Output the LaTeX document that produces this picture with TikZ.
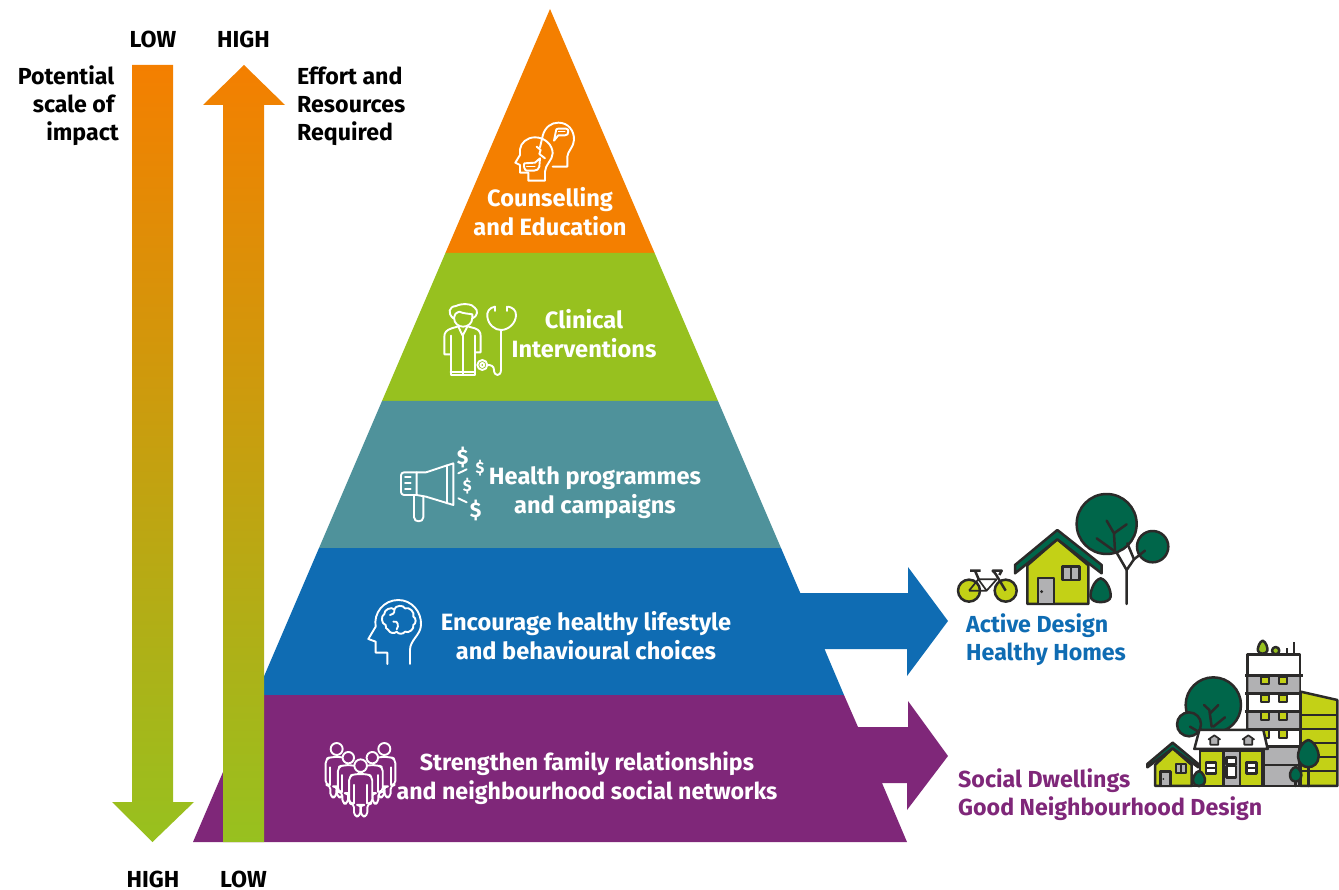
\documentclass[tikz,border=0pt]{standalone}
\usepackage{fontspec}
\setmainfont{Fira Sans}
\usetikzlibrary{calc}
\definecolor{cOrange}{HTML}{F47F00}
\definecolor{cMid}{HTML}{C6AE0E}
\definecolor{cGreen}{HTML}{97C11F}
\definecolor{cTeal}{HTML}{4F929B}
\definecolor{cBlue}{HTML}{0F6CB3}
\definecolor{cPurple}{HTML}{7F2779}
\definecolor{cDark}{HTML}{2B2A29}
\definecolor{cTree}{HTML}{00664A}
\definecolor{cLime}{HTML}{C3D116}
\definecolor{cGrey}{HTML}{B1B1B3}
\tikzset{
  band/.style={draw=none},
  label/.style={font=\fontsize{23.6}{29}\selectfont\bfseries,text=white,align=center,inner sep=0pt},
  axislabel/.style={font=\fontsize{23.2}{28}\selectfont\bfseries,text=black,inner sep=0pt},
  side/.style={font=\fontsize{23.2}{28}\selectfont\bfseries,align=left,inner sep=0pt,anchor=west},
  ico/.style={draw=white,line width=1.9pt,line join=round,line cap=round},
  art/.style={draw=cDark,line width=2.5pt,line join=round},
  thin art/.style={draw=cDark,line width=1.7pt,line join=round},
  zoomed/.style={x=0.3333pt,y=-0.3333pt},
  grad/.style={top color=cOrange,middle color=cMid,bottom color=cGreen},
}
\begin{document}
\begin{tikzpicture}[x=1pt,y=-1pt]
\useasboundingbox (0,0) rectangle (1339,890);
% pyramid
\fill[cOrange,band] (550,9) -- (654.6,253) -- (445.4,253) -- cycle;
\fill[cGreen,band] (445.4,253) -- (654.6,253) -- (718,401) -- (382,401) -- cycle;
\fill[cTeal,band] (382,401) -- (718,401) -- (781,548) -- (319,548) -- cycle;
\fill[cBlue,band] (319,548) -- (781,548) -- (800.3,593) -- (908,593) -- (908,567) -- (948,621) -- (907,676) -- (907,649) -- (824.5,649) -- (844,695) -- (256,695) -- cycle;
\fill[cPurple,band] (256,695) -- (844,695) -- (858,727) -- (908,727) -- (908,701) -- (948,756) -- (907,810) -- (907,783) -- (882,783) -- (907,842) -- (193,842) -- cycle;
% axis arrows
\shade[grad] (132,65) -- (173,65) -- (173,802) -- (194,802) -- (152.5,842) -- (112,802) -- (132,802) -- cycle;
\shade[grad] (244,65) -- (285,105) -- (264,105) -- (264,842) -- (223,842) -- (223,105) -- (203,105) -- cycle;
% axis labels
\node[axislabel] (lowA) at (153,39.5) {LOW};
\node[axislabel] (highA) at (243.5,39.5) {HIGH};
\node[axislabel] (highB) at (153,879) {HIGH};
\node[axislabel] (lowB) at (243.5,879) {LOW};
\node[axislabel,anchor=base east] (imp1) at (114.5,85) {Potential};
\node[axislabel,anchor=base east] (imp2) at (114.5,113) {scale of};
\node[axislabel,anchor=base east] (imp3) at (119,141) {impact};
\node[axislabel,align=left,anchor=west] (effort) at (297,106.5) {Effort and\\Resources\\Required};
% band labels
\node[label] (t1) at (550,212) {Counselling\\and Education};
\node[label] (t2) at (584,334) {Clinical\\Interventions};
\node[label] (t3) at (595,492.5) {Health programmes\\and campaigns};
\node[label] (t4) at (586,635.5) {Encourage healthy lifestyle\\and behavioural choices};
\node[label,font=\fontsize{23.2}{29}\selectfont\bfseries] (t5) at (587,778) {Strengthen family relationships\\and neighbourhood social networks};
\node[side,text=cBlue] (active) at (966,640) {Active Design\\Healthy Homes};
\node[side,text=cPurple] (social) at (958,795) {Social Dwellings\\Good Neighbourhood Design};
% counselling icon
\begin{scope}[shift={(490,110)},zoomed]
\draw[ico] (150,112) -- (158,78) .. controls (165,50) and (185,38) .. (205,38) .. controls (235,38) and (253,62) .. (252,90) .. controls (252,110) and (232,125) .. (232,140) -- (232,170) -- (188,170);
\draw[ico] (115,212) -- (115,188) -- (90,188) -- (90,165) -- (76,158) -- (90,135) -- (90,118) .. controls (92,98) and (112,82) .. (135,82) .. controls (165,82) and (188,105) .. (188,130) .. controls (188,150) and (165,165) .. (165,185) -- (165,212) -- cycle;
\draw[ico] (140,110) -- (152,120) -- (148,132) -- (165,145);
\draw[ico] (198,62) .. controls (198,58) and (200,56) .. (205,56) -- (228,56) .. controls (233,56) and (235,60) .. (235,64) .. controls (235,72) and (232,76) .. (225,76) -- (205,76) -- (192,92) -- (196,72) -- cycle;
\draw[ico] (103,160) -- (135,158) -- (150,145) -- (148,170) .. controls (147,178) and (140,182) .. (132,182) -- (110,182) .. controls (103,182) and (100,165) .. (103,160) -- cycle;
\draw[ico,line width=1pt] (110,170) -- (135,170);
\draw[ico,line width=1pt] (205,66) -- (225,66);
\end{scope}
% doctor icon
\begin{scope}[shift={(430,295)},zoomed]
\draw[ico] (70,70) .. controls (52,55) and (56,35) .. (78,33) .. controls (95,24) and (128,26) .. (134,38) .. controls (146,46) and (142,64) .. (128,70);
\draw[ico] (72,68) .. controls (72,58) and (78,54) .. (88,50) .. controls (100,56) and (118,56) .. (127,58) -- (127,68) .. controls (127,104) and (72,104) .. (72,68) -- cycle;
\draw[ico] (82,95) -- (65,100) .. controls (50,105) and (43,112) .. (43,125) -- (43,178) -- (62,178);
\draw[ico] (116,95) -- (135,100) .. controls (148,105) and (152,112) .. (152,125) -- (152,172) -- (135,172);
\draw[ico] (62,122) -- (62,240) -- (135,240) -- (135,122);
\draw[ico] (85,95) -- (98,122) -- (112,95);
\draw[ico] (98,122) -- (98,240);
\draw[ico] (62,230) -- (135,230);
\draw[ico] (195,35) .. controls (178,38) and (170,50) .. (172,65) .. controls (175,90) and (195,105) .. (213,105) .. controls (235,105) and (258,85) .. (258,60) .. controls (258,45) and (248,38) .. (235,35);
\draw[ico] (195,35) -- (195,48);
\draw[ico] (232,35) -- (232,48);
\draw[ico] (213,105) -- (213,225) .. controls (213,245) and (192,245) .. (192,225) .. controls (192,212) and (182,210) .. (172,210);
\draw[ico] (157,210) circle[radius=15];
\draw[ico] (157,210) circle[radius=6];
\end{scope}
% megaphone icon
\begin{scope}[shift={(390,440)},zoomed]
\draw[ico,rounded corners=3pt] (80,97) -- (33,97) -- (33,165) -- (80,165);
\draw[ico] (80,97) -- (108,97) -- (190,70) -- (190,195) -- (108,170) -- (80,165) -- cycle;
\draw[ico] (172,76) -- (172,190);
\draw[ico] (45,112) -- (62,112) (45,130) -- (62,130) (45,147) -- (62,147);
\draw[ico] (72,167) -- (72,232) .. controls (72,248) and (100,248) .. (100,232) -- (100,172);
\draw[ico] (205,100) -- (230,88) (205,175) -- (230,187);
\node[text=white,inner sep=0pt,font=\fontsize{21}{21}\selectfont\bfseries] (d1) at (218,52) {\$};
\node[text=white,inner sep=0pt,font=\fontsize{16}{16}\selectfont\bfseries] (d2) at (270,85) {\$};
\node[text=white,inner sep=0pt,font=\fontsize{16}{16}\selectfont\bfseries] (d3) at (232,137) {\$};
\node[text=white,inner sep=0pt,font=\fontsize{21}{21}\selectfont\bfseries] (d4) at (257,212) {\$};
\end{scope}
% brain icon
\begin{scope}[shift={(355,590)},zoomed]
\draw[ico] (97,222) -- (97,188) -- (62,188) -- (62,155) -- (40,147) -- (62,110) .. controls (55,70) and (85,30) .. (130,30) .. controls (170,30) and (200,65) .. (198,105) .. controls (197,135) and (165,150) .. (165,180) -- (165,222);
\draw[ico] (92,105) to[bend left=70] (88,72) to[bend left=70] (118,58) to[bend left=70] (150,55) to[bend left=70] (175,80) to[bend left=70] (175,105) to[bend left=70] (150,125) to[bend left=60] (125,125) to[bend left=60] (100,120) to[bend left=40] cycle;
\draw[ico] (118,58) .. controls (120,70) and (112,75) .. (105,75);
\draw[ico] (115,95) .. controls (130,90) and (132,110) .. (125,118);
\end{scope}
% people icon
\begin{scope}[shift={(315,735)},zoomed]
\foreach \px/\py/\ps in {65/42/1,208/42/1,100/68/0.95,172/68/0.95,137/92/1.05}{
\begin{scope}[shift={(\px,\py)},scale=\ps]
\draw[ico,fill=cPurple] (0,0) circle[radius=18];
\draw[ico,fill=cPurple,rounded corners=4pt] (-18,24) -- (-33,30) -- (-33,108) -- (-19,108) -- (-19,145) -- (-1,145) -- (-1,112) -- (1,112) -- (1,145) -- (19,145) -- (19,108) -- (33,108) -- (33,30) -- (18,24) -- cycle;
\draw[ico] (-19,55) -- (-19,108) (19,55) -- (19,108);
\end{scope}}
\end{scope}
% active design scene
\begin{scope}[shift={(940,480)},zoomed]
\fill[cTree] (500,132) circle[radius=90];
\draw[art] (500,132) circle[radius=90];
\draw[art,fill=cTree] (638,200) circle[radius=47];
\draw[art,line cap=round] (560,372) -- (560,270) -- (530,218) -- (470,175);
\draw[art,line cap=round] (525,212) -- (522,160) -- (500,122);
\draw[art,line cap=round] (522,160) -- (560,133);
\draw[art,line cap=round] (560,270) -- (582,238) -- (615,212);
\draw[art,line cap=round] (582,238) -- (562,190);
\draw[art,fill=cLime] (262,372) -- (262,256) -- (352,178) -- (445,256) -- (445,372) -- cycle;
\draw[art,fill=cTree] (225,255) -- (352,150) -- (485,255) -- (485,280) -- (352,178) -- (225,280) -- cycle;
\draw[art,fill=cGrey] (294,294) rectangle (342,372);
\fill[cDark] (305,335) circle[radius=5];
\draw[art,fill=cGrey] (368,260) rectangle (418,300);
\draw[art] (393,260) -- (393,300);
\draw[art,fill=cTree] (482,295) .. controls (462,300) and (450,335) .. (452,350) .. controls (454,372) and (510,372) .. (512,350) .. controls (514,335) and (502,300) .. (482,295) -- cycle;
\draw[art,fill=cLime] (87,332) circle[radius=33];
\draw[art,fill=cLime] (197,332) circle[radius=33];
\draw[thin art] (87,332) -- (140,332) -- (115,298) -- (170,298) -- (140,332) (87,332) -- (115,298);
\draw[art] (105,272) -- (117,300) (90,272) -- (122,272);
\draw[art] (197,332) -- (167,282) -- (158,272) -- (185,272) -- (178,285);
\end{scope}
% social dwellings scene
\begin{scope}[shift={(1130,630)},zoomed]
\draw[art,fill=white] (353,73) rectangle (510,350);
\fill[cGrey] (355,137) rectangle (508,190) (355,244) rectangle (508,298);
\draw[art] (345,137) -- (518,137) (345,190) -- (518,190) (345,244) -- (518,244) (353,298) -- (510,298);
\foreach \wx in {392,447}{
  \foreach \wy in {140,194,247,300}{
    \draw[thin art,fill=cLime] (\wx,\wy) rectangle ++(24,23);
  }
}
\draw[art,fill=cGrey] (400,350) rectangle (508,468);
\draw[art] (400,405) -- (508,405);
\draw[art,fill=cLime] (512,185) -- (622,210) -- (622,468) -- (512,468) -- cycle;
\draw[thin art] (512,255) -- (622,255) (512,297) -- (622,297) (512,340) -- (622,340) (512,380) -- (622,380) (512,422) -- (622,422);
\draw[art,fill=cGreen] (398,32) .. controls (388,35) and (382,55) .. (384,62) .. controls (386,74) and (410,74) .. (412,62) .. controls (414,55) and (408,35) .. (398,32) -- cycle;
\draw[art,fill=cGreen] (437,62) circle[radius=11];
\draw[thin art] (472,55) -- (472,72) (492,36) -- (492,72);
\draw[art,fill=cTree] (250,225) circle[radius=83];
\draw[art,line cap=round] (245,290) -- (238,240) -- (222,225);
\draw[art,line cap=round] (240,250) -- (265,225);
\draw[art,line cap=round] (250,290) -- (285,262);
\draw[art,fill=cTree] (177,283) circle[radius=36];
\draw[art,line cap=round] (180,290) -- (205,305);
\draw[art,fill=cLime] (210,362) rectangle (398,468);
\draw[art,fill=cGrey] (280,362) rectangle (330,468);
\draw[art,fill=white] (208,300) -- (400,300) -- (413,357) -- (193,357) -- cycle;
\foreach \dx in {253,355}{
  \draw[thin art,fill=cGrey] (\dx,316) -- (\dx+17,328) -- (\dx+12,328) -- (\dx+12,344) -- (\dx-12,344) -- (\dx-12,328) -- (\dx-17,328) -- cycle;
}
\foreach \bx in {228,350}{
  \draw[art,fill=white] (\bx,397) rectangle ++(30,33);
  \draw[thin art] (\bx,413) -- ++(30,0);
}
\draw[art,fill=white] (290,382) rectangle (318,403);
\draw[art,fill=white] (290,408) rectangle (318,442);
\draw[art,fill=cLime] (75,468) -- (75,405) -- (128,355) -- (185,405) -- (185,468) -- cycle;
\draw[art,fill=cTree] (52,402) -- (128,338) -- (205,402) -- (205,412) -- (128,355) -- (52,412) -- cycle;
\draw[art,fill=cGrey] (92,424) rectangle (122,468);
\fill[cDark] (100,447) circle[radius=3];
\draw[thin art,fill=cGrey] (138,402) rectangle (168,428);
\draw[thin art] (153,402) -- (153,428);
\draw[art,fill=cTree] (207,423) .. controls (195,426) and (188,445) .. (189,452) .. controls (191,474) and (223,474) .. (225,452) .. controls (226,445) and (219,426) .. (207,423) -- cycle;
\draw[art,line cap=round] (535,400) -- (535,468);
\draw[art,fill=cTree] (535,330) .. controls (515,335) and (503,365) .. (504,380) .. controls (506,422) and (564,422) .. (566,380) .. controls (567,365) and (555,335) .. (535,330) -- cycle;
\draw[art,line cap=round] (497,440) -- (497,468);
\draw[art,fill=cTree] (497,411) .. controls (486,413) and (479,428) .. (480,436) .. controls (482,462) and (512,462) .. (514,436) .. controls (515,428) and (508,413) .. (497,411) -- cycle;
\draw[art] (75,468) -- (622,468);
\end{scope}
\end{tikzpicture}
\end{document}
